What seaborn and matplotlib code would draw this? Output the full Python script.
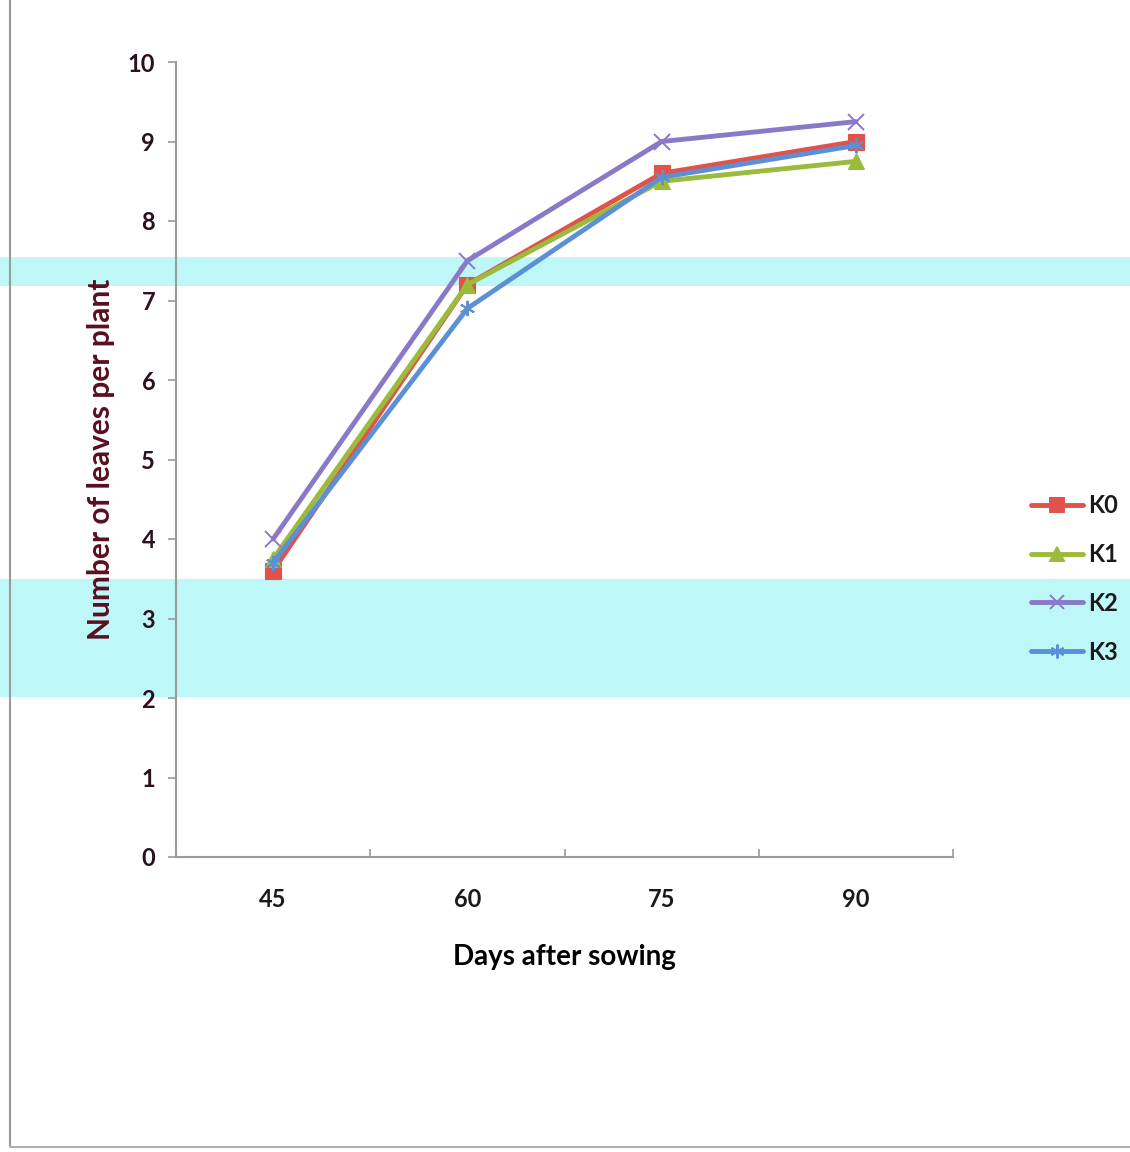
import numpy as np
import pandas as pd
import matplotlib
matplotlib.use("Agg")
import matplotlib.pyplot as plt
from matplotlib.patches import Rectangle
from matplotlib.lines import Line2D
import seaborn as sns

# ---- data ----
days = [45, 60, 75, 90]
series_names = ["K0", "K1", "K2", "K3"]
k0 = [3.6, 7.2, 8.6, 9.0]
k1 = [3.75, 7.2, 8.5, 8.75]
k2 = [4.0, 7.5, 9.0, 9.25]
k3 = [3.7, 6.9, 8.55, 8.95]
y_ticks = [0, 1, 2, 3, 4, 5, 6, 7, 8, 9, 10]

colors = {"K0": "#E0524A", "K1": "#9BBB3C", "K2": "#8A78C8", "K3": "#5B8FD6"}
markers = {"K0": "s", "K1": "^", "K2": "x", "K3": (6, 2, 0)}

rows = []
for name, vals in zip(series_names, [k0, k1, k2, k3]):
    for d, v in zip(days, vals):
        rows.append({"Days": d, "Leaves": v, "Series": name})
df = pd.DataFrame(rows)

sns.set_theme(style="white")
plt.rcParams['font.family'] = ['Lato', 'DejaVu Sans']

fig = plt.figure(figsize=(11.3, 11.52), dpi=100)
fig.patch.set_facecolor("white")

# scan-like cyan bands across the page
for (y0, y1) in [(257, 286), (579, 697)]:
    fig.patches.append(Rectangle((0, 1 - y1 / 1152), 1, (y1 - y0) / 1152,
                                 transform=fig.transFigure, facecolor="#BDF7F7",
                                 edgecolor="none", zorder=0))
# page edges
fig.lines.append(Line2D([10 / 1130, 10 / 1130], [0.005, 1], transform=fig.transFigure,
                        color="#9a9a9a", lw=1.5, zorder=1))
fig.lines.append(Line2D([10 / 1130, 1], [5 / 1152, 5 / 1152], transform=fig.transFigure,
                        color="#b0b0b0", lw=1.5, zorder=1))

ax = fig.add_axes([176 / 1130, 1 - 857 / 1152, (953 - 176) / 1130, (857 - 62) / 1152])
ax.patch.set_alpha(0)
ax.set_zorder(2)

for name in series_names:
    sub = df[df["Series"] == name]
    sns.lineplot(data=sub, x="Days", y="Leaves", ax=ax, color=colors[name],
                 marker=markers[name], markersize=11,
                 markeredgewidth=1.4 if name in ("K2", "K3") else 0.8,
                 markeredgecolor=colors[name], linewidth=3.5, label=name, legend=False)

ax.set_xlim(37.5, 97.5)
ax.set_ylim(0, 10)
ax.set_xticks(days)
ax.set_xticklabels([str(d) for d in days], fontsize=17, fontweight="bold")
ax.set_xticks([37.5, 52.5, 67.5, 82.5, 97.5], minor=True)
ax.tick_params(axis="x", which="major", length=0, pad=22, labelcolor="#1a1a1a")
ax.tick_params(axis="x", which="minor", length=6, direction="in", color="#9a9a9a", width=1.2, bottom=True)
ax.set_yticks(y_ticks)
ax.set_yticklabels([str(t) for t in y_ticks], fontsize=17, fontweight="bold", color="#2b1020")
ax.tick_params(axis="y", which="major", length=6, direction="out", color="#9a9a9a", width=1.2, left=True, pad=9)

for s in ["top", "right"]:
    ax.spines[s].set_visible(False)
for s in ["left", "bottom"]:
    ax.spines[s].set_color("#9a9a9a")
    ax.spines[s].set_linewidth(1.5)
ax.grid(False)

ax.set_xlabel("Days after sowing", fontsize=20, fontweight="bold", color="black", labelpad=24)
ax.set_ylabel("Number of leaves per plant", fontsize=21.5, fontweight="bold", color="#5a0f1e", labelpad=9)

handles = [Line2D([0], [0], color=colors[n], lw=3.5, marker=markers[n], markersize=10,
                  markeredgecolor=colors[n], markeredgewidth=1.4) for n in series_names]
leg = ax.legend(handles, series_names, loc="center left", bbox_to_anchor=(1.10, 0.35),
                frameon=False, handlelength=2.2, handletextpad=0.25,
                labelspacing=1.1, prop={"family": ["Lato", "DejaVu Sans"], "weight": "bold", "size": 17},
                borderaxespad=0, borderpad=0)
for t in leg.get_texts():
    t.set_color("#1a1a1a")

fig.savefig("out.png", dpi=100)
